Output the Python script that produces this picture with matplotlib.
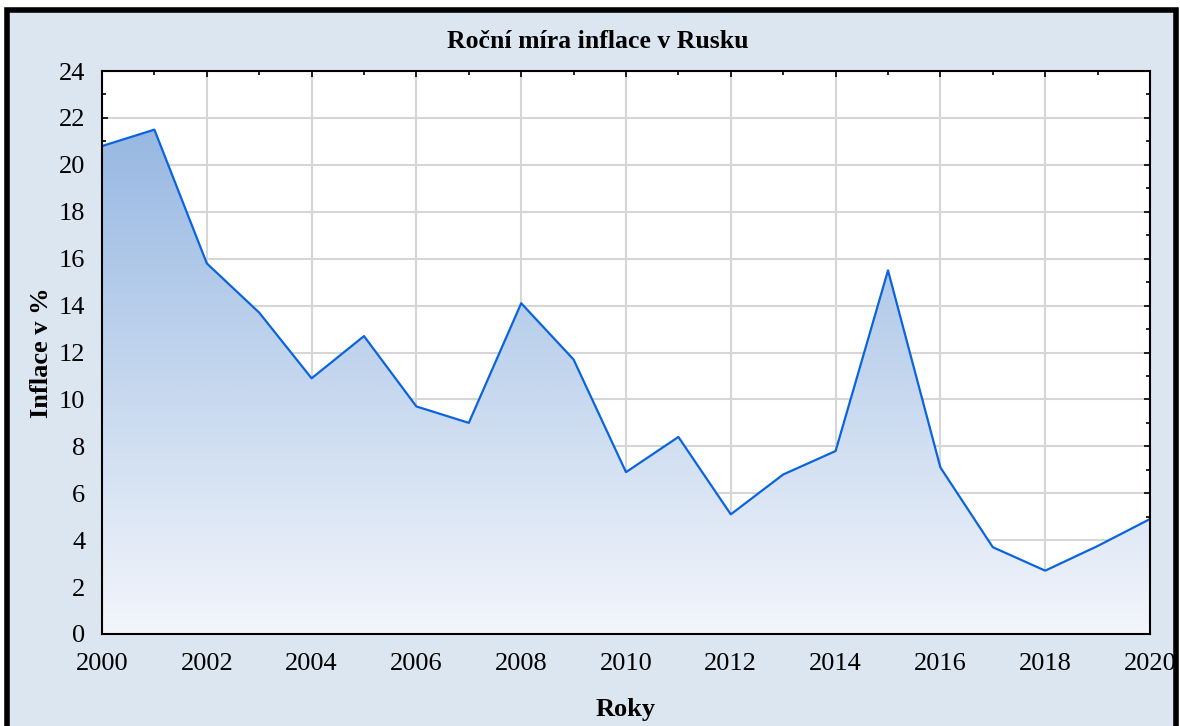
import matplotlib.pyplot as plt
import numpy as np
from matplotlib.patches import Rectangle
from matplotlib.colors import LinearSegmentedColormap

# data
years = list(range(2000, 2021))
inflation = [20.8, 21.5, 15.8, 13.7, 10.9, 12.7, 9.7, 9.0, 14.1, 11.7,
             6.9, 8.4, 5.1, 6.8, 7.8, 15.5, 7.1, 3.7, 2.7, 3.75, 4.9]
xticks = list(range(2000, 2021, 2))
yticks = list(range(0, 25, 2))

plt.rcParams['font.family'] = ['Liberation Serif', 'DejaVu Serif']

fig = plt.figure(figsize=(11.8, 7.26), dpi=100, facecolor='white')

# light blue panel with black frame (drawn behind the axes)
frame = Rectangle((7 / 1180, -0.05), 1169 / 1180, 1.05 - 10 / 726,
                  transform=fig.transFigure, facecolor='#dce6f1',
                  edgecolor='black', linewidth=4, zorder=-10)
fig.patches.append(frame)

ax = fig.add_axes([102 / 1180, 1 - 634 / 726, 1048 / 1180, 563 / 726])
ax.set_facecolor('white')

# gradient fill under the line
cmap = LinearSegmentedColormap.from_list('fill', ['#f3f6fb', '#8db1df'])
grad = np.linspace(0, 1, 256).reshape(-1, 1)
img = ax.imshow(grad, cmap=cmap, aspect='auto', origin='lower',
                extent=[2000, 2020, 0, 24], zorder=1)
poly = ax.fill_between(years, inflation, 0, facecolor='none', edgecolor='none')
clip = poly.get_paths()[0]
img.set_clip_path(clip, transform=ax.transData)

ax.plot(years, inflation, color='#0a64dc', linewidth=1.6, zorder=3)

ax.set_xlim(2000, 2020)
ax.set_ylim(0, 24)
ax.set_xticks(xticks)
ax.set_yticks(yticks)
ax.set_xticks(years, minor=True)
ax.set_yticks(range(0, 25), minor=True)
ax.grid(True, which='major', color='#d6d6d6', linewidth=1.5, zorder=0)
ax.set_axisbelow(True)
ax.tick_params(which='both', direction='in', top=True, right=True,
               labelsize=19, length=4, width=1.2)
ax.tick_params(axis='x', pad=14)
ax.tick_params(axis='y', pad=12)
ax.tick_params(which='minor', length=3)
for s in ax.spines.values():
    s.set_linewidth(1.5)
    s.set_zorder(4)

fig.text(598 / 1180, 1 - 42 / 726, 'Roční míra inflace v Rusku', fontsize=18.5,
         fontweight='bold', ha='center', va='center')
ax.set_xlabel('Roky', fontsize=19, fontweight='bold', labelpad=16)
ax.set_ylabel('Inflace v %', fontsize=19, fontweight='bold', labelpad=4)

fig.savefig('out.png', dpi=100, facecolor=fig.get_facecolor())
